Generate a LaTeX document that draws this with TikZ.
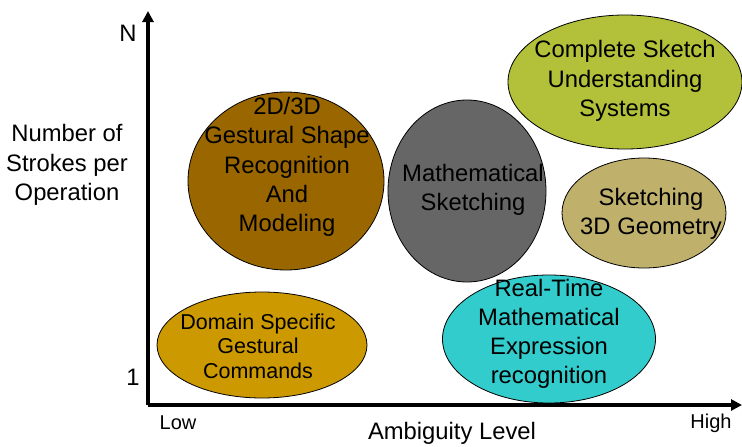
\documentclass[tikz,border=0pt]{standalone}
\usepackage{fontspec}
\setmainfont{Liberation Sans}
\usetikzlibrary{shapes.geometric,arrows.meta}
\definecolor{cdomain}{HTML}{CC9900}
\definecolor{cgest}{HTML}{996600}
\definecolor{cmath}{HTML}{666666}
\definecolor{ccomplete}{HTML}{B3C13A}
\definecolor{cgeom}{HTML}{BFB06C}
\definecolor{creal}{HTML}{33CCCC}
\tikzset{
  blob/.style={ellipse, draw=black, line width=0.8pt, inner sep=0pt},
  lbl/.style={align=center, font=\fontsize{23.8}{29.2}\selectfont, inner sep=0pt},
  axis/.style={line width=3.6pt, -{Triangle[length=11pt,width=11pt]}},
  axlbl/.style={font=\fontsize{20}{24}\selectfont, inner sep=0pt}
}
\begin{document}
\begin{tikzpicture}[x=1pt,y=-1pt]
\useasboundingbox (0,0) rectangle (742,447);
% ellipses
\node[blob, fill=cdomain, minimum width=210, minimum height=106] (e1) at (262,345) {};
\node[blob, fill=cgest, minimum width=196, minimum height=178] (e2) at (286,181) {};
\node[blob, fill=cmath, minimum width=158, minimum height=182] (e3) at (467,191) {};
\node[blob, fill=ccomplete, minimum width=234, minimum height=134] (e4) at (625,82) {};
\node[blob, fill=cgeom, minimum width=164, minimum height=110] (e5) at (644,213) {};
\node[blob, fill=creal, minimum width=213, minimum height=128] (e6) at (549,339) {};
% labels
\node[lbl, font=\fontsize{21.5}{24.5}\selectfont] (t1) at (258,346) {Domain Specific\\Gestural\\Commands};
\node[lbl] (t2) at (287,167) {2D/3D\\Gestural Shape\\Recognition\\And\\Modeling};
\node[lbl] (t3) at (473,190) {Mathematical\\Sketching};
\node[lbl] (t4) at (625,81) {Complete Sketch\\Understanding\\Systems};
\node[lbl] (t5) at (651,214) {Sketching\\3D Geometry};
\node[lbl] (t6) at (549,334) {Real-Time\\Mathematical\\Expression\\recognition};
% axes
\coordinate (o) at (148,405);
\coordinate (ytop) at (148,11);
\coordinate (xend) at (742,405);
\draw[axis] (o) -- (ytop);
\draw[axis] (o) -- (xend);
\node[lbl] (yl) at (67,165) {Number of\\Strokes per\\Operation};
\node[lbl] (n) at (128,33) {N};
\node[lbl] (one) at (133,377) {1};
\node[axlbl] (low) at (178,423) {Low};
\node[axlbl] (high) at (711,423) {High};
\node[lbl] (xl) at (452,433) {Ambiguity Level};
\end{tikzpicture}
\end{document}
